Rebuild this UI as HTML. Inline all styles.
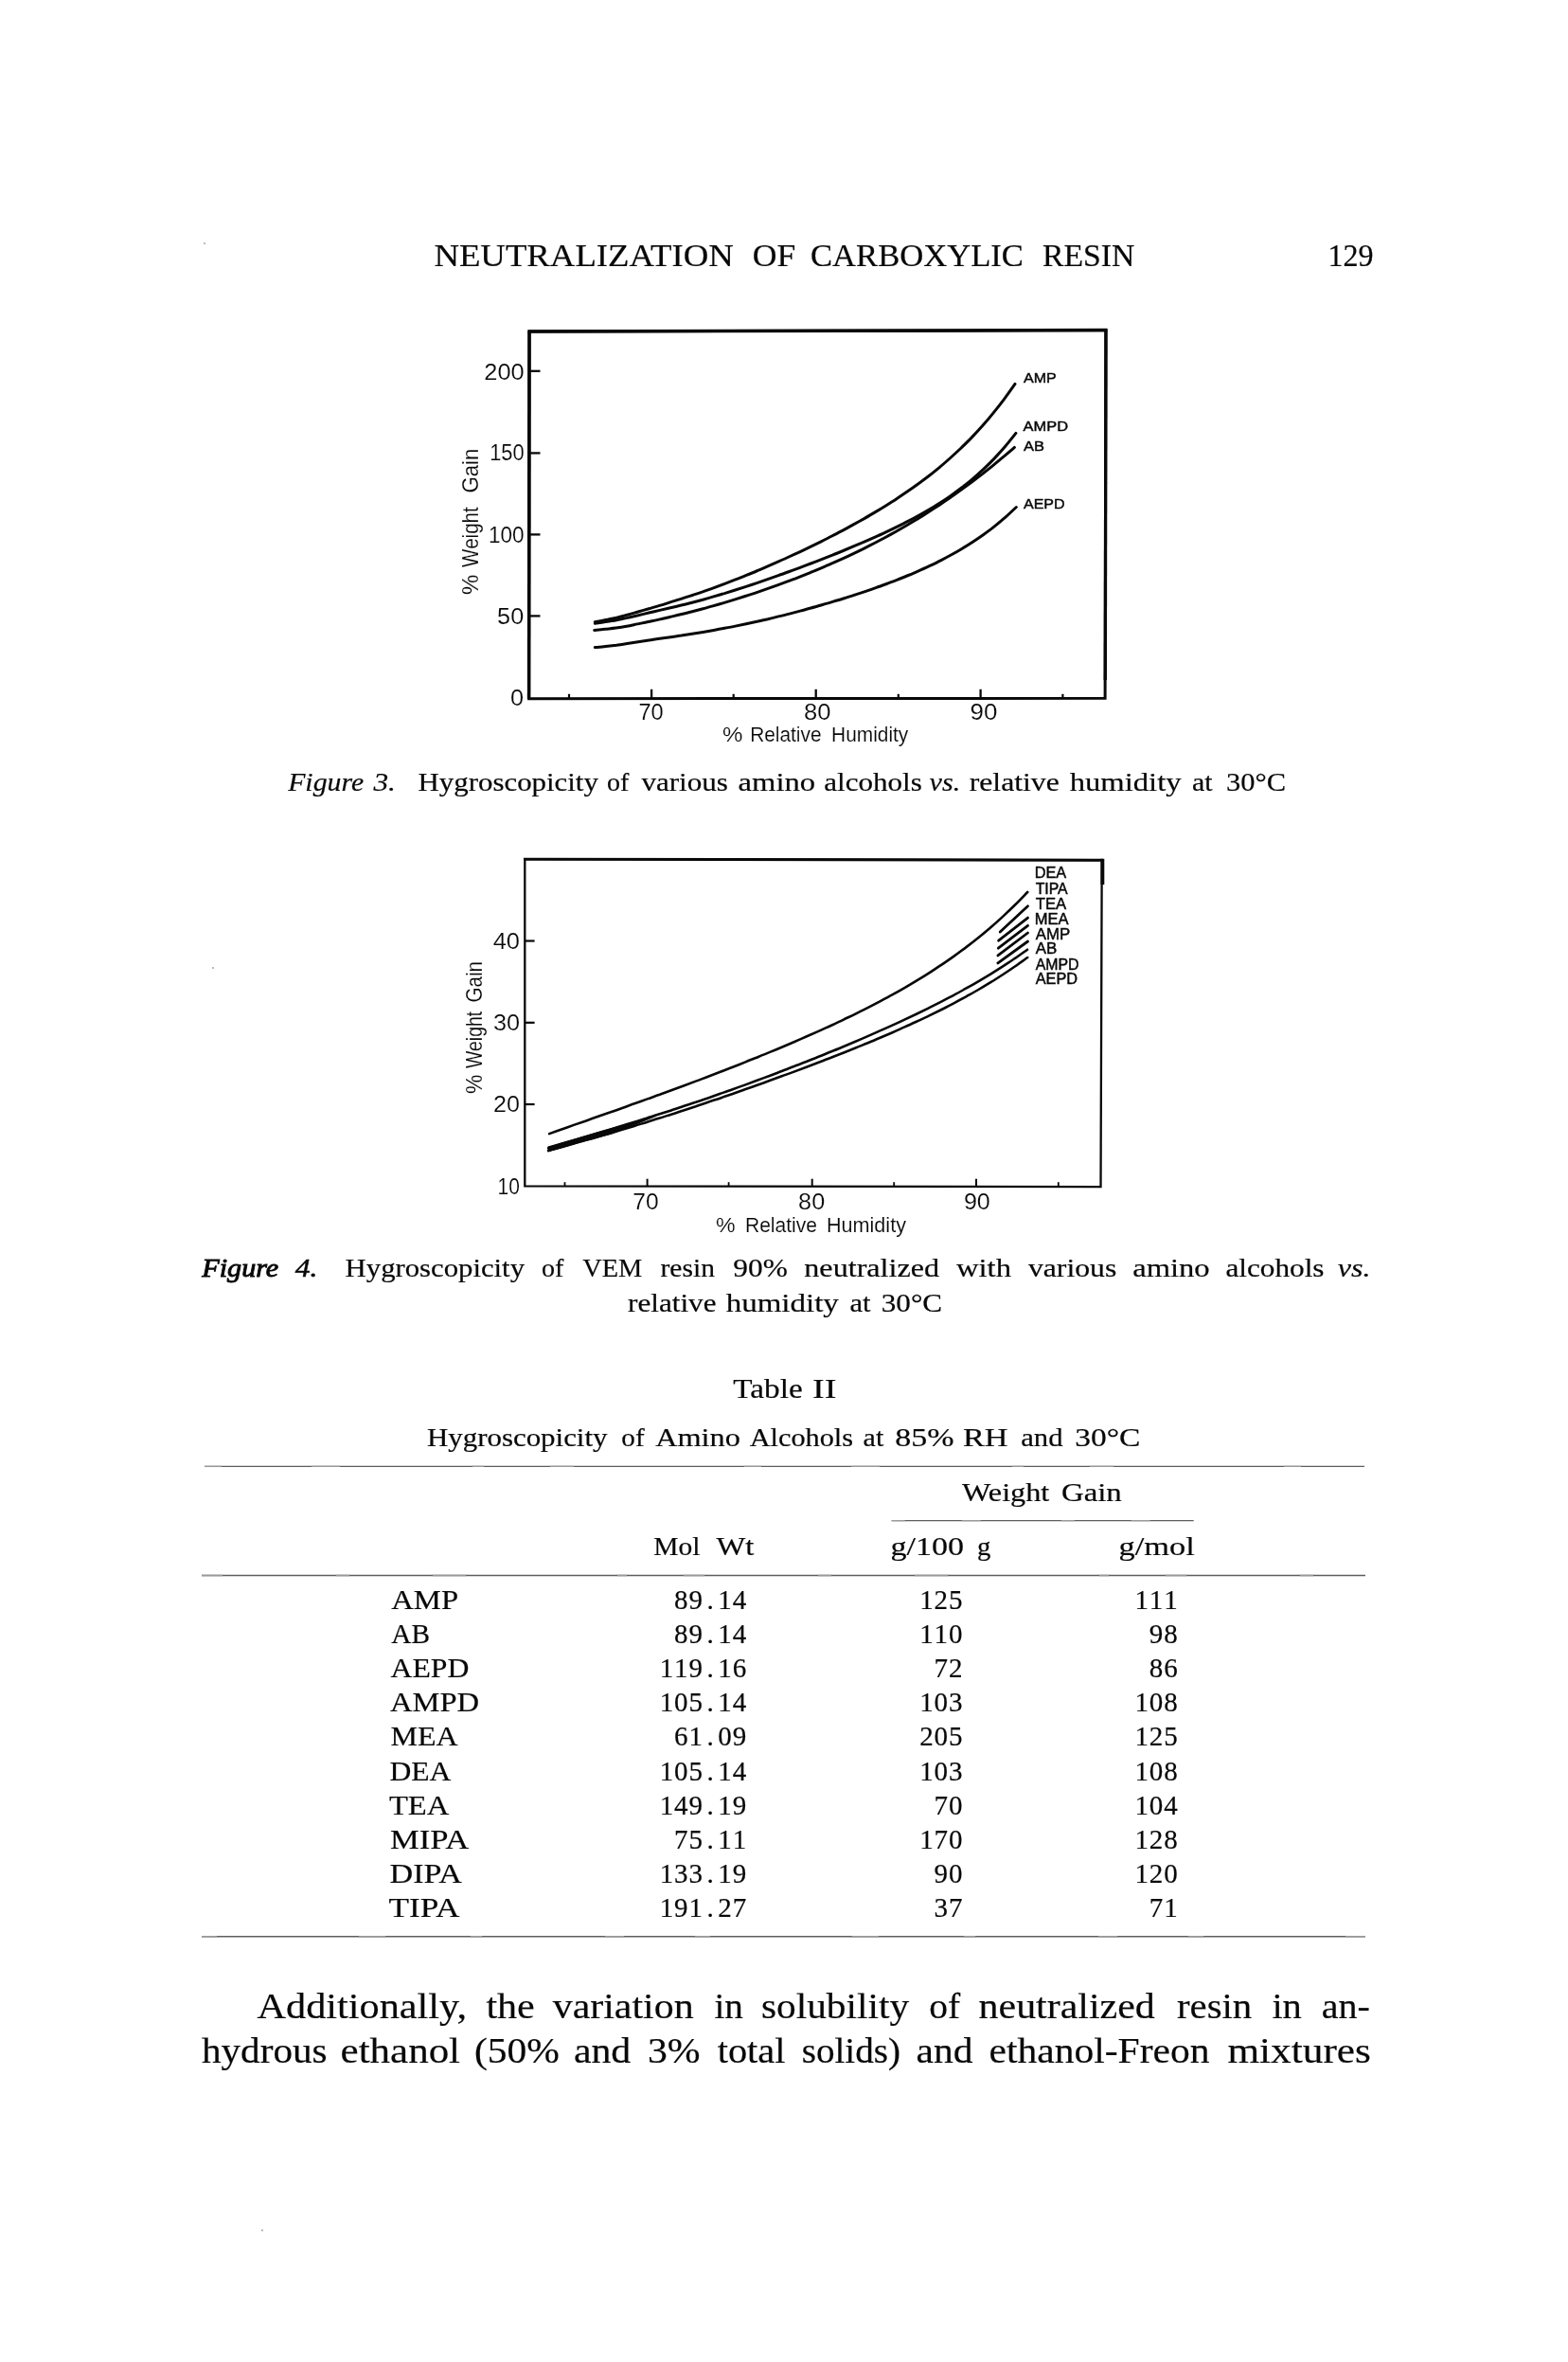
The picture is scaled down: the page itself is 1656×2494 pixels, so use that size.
<!DOCTYPE html>
<html lang="en">
<head>
<meta charset="utf-8">
<title>Neutralization of Carboxylic Resin - page 129</title>
<style>
html,body{margin:0;padding:0;background:#fff;}
body{width:1656px;height:2494px;overflow:hidden;font-family:"Liberation Serif",serif;}
svg{display:block;position:absolute;left:0;top:0;filter:grayscale(1);}
text{font-family:"Liberation Serif",serif;fill:#080808;white-space:pre;stroke:#080808;stroke-width:0.2px;}
text.s{font-family:"Liberation Sans",sans-serif;stroke:#fff;stroke-width:0.15px;}
text.b{stroke-width:0.2px;}
</style>
</head>
<body>
<svg width="1656" height="2494" viewBox="0 0 1656 2494">
<rect x="0" y="0" width="1656" height="2494" fill="#ffffff"/>
<text font-size="33" textLength="316.31" lengthAdjust="spacingAndGlyphs" x="458.40" y="280.5">NEUTRALIZATION</text>
<text font-size="33" textLength="45.46" lengthAdjust="spacingAndGlyphs" x="794.82" y="280.5">OF</text>
<text font-size="33" textLength="224.91" lengthAdjust="spacingAndGlyphs" x="856.05" y="280.5">CARBOXYLIC</text>
<text font-size="33" textLength="97.43" lengthAdjust="spacingAndGlyphs" x="1100.90" y="280.5">RESIN</text>
<text font-size="33" textLength="48.03" lengthAdjust="spacingAndGlyphs" x="1402.46" y="280.5">129</text>
<path d="M558.6,737.7 L559.1,350.0 L1167.9,348.6 L1167.1,737.3 Z" fill="none" stroke="#080808" stroke-width="3.0" stroke-linejoin="miter"/>
<line x1="557.4" y1="350.0" x2="1169.5" y2="348.6" stroke="#080808" stroke-width="3.5" stroke-linecap="butt"/>
<line x1="559.0" y1="350.0" x2="558.6" y2="737.7" stroke="#080808" stroke-width="3.5" stroke-linecap="butt"/>
<line x1="1168.0" y1="348.6" x2="1167.3" y2="718.0" stroke="#080808" stroke-width="3.3" stroke-linecap="butt"/>
<line x1="559.1" y1="391.8" x2="570.5" y2="391.8" stroke="#080808" stroke-width="2.3" stroke-linecap="butt"/>
<line x1="559.1" y1="478.4" x2="570.5" y2="478.4" stroke="#080808" stroke-width="2.3" stroke-linecap="butt"/>
<line x1="559.1" y1="564.4" x2="570.5" y2="564.4" stroke="#080808" stroke-width="2.3" stroke-linecap="butt"/>
<line x1="559.1" y1="650.4" x2="570.5" y2="650.4" stroke="#080808" stroke-width="2.3" stroke-linecap="butt"/>
<text font-size="23.5" class="s" textLength="42.36" lengthAdjust="spacingAndGlyphs" x="511.32" y="400.5">200</text>
<text font-size="23.5" class="s" textLength="36.50" lengthAdjust="spacingAndGlyphs" x="517.17" y="486.4">150</text>
<text font-size="23.5" class="s" textLength="37.63" lengthAdjust="spacingAndGlyphs" x="516.04" y="572.7">100</text>
<text font-size="23.5" class="s" textLength="28.07" lengthAdjust="spacingAndGlyphs" x="525.10" y="659.0">50</text>
<text font-size="23.5" class="s" transform="translate(539.10,745.3) scale(1.0769,1)">0</text>
<line x1="688.1" y1="737.3" x2="688.1" y2="727.8" stroke="#080808" stroke-width="2.3" stroke-linecap="butt"/>
<line x1="861.7" y1="737.3" x2="861.7" y2="727.8" stroke="#080808" stroke-width="2.3" stroke-linecap="butt"/>
<line x1="1035.6" y1="737.3" x2="1035.6" y2="727.8" stroke="#080808" stroke-width="2.3" stroke-linecap="butt"/>
<line x1="601.0" y1="737.3" x2="601.0" y2="732.8" stroke="#080808" stroke-width="2.2" stroke-linecap="butt"/>
<line x1="774.7" y1="737.3" x2="774.7" y2="732.8" stroke="#080808" stroke-width="2.2" stroke-linecap="butt"/>
<line x1="948.8" y1="737.3" x2="948.8" y2="732.8" stroke="#080808" stroke-width="2.2" stroke-linecap="butt"/>
<line x1="1122.4" y1="737.3" x2="1122.4" y2="732.8" stroke="#080808" stroke-width="2.2" stroke-linecap="butt"/>
<text font-size="23.5" class="s" textLength="26.28" lengthAdjust="spacingAndGlyphs" x="674.49" y="759.8">70</text>
<text font-size="23.5" class="s" textLength="28.46" lengthAdjust="spacingAndGlyphs" x="848.91" y="759.8">80</text>
<text font-size="23.5" class="s" textLength="28.78" lengthAdjust="spacingAndGlyphs" x="1024.60" y="759.8">90</text>
<text font-size="22.5" class="s" transform="translate(763.00,782.9) scale(1.0700,1)">%</text>
<text font-size="22.5" class="s" textLength="75.40" lengthAdjust="spacingAndGlyphs" x="792.17" y="782.9">Relative</text>
<text font-size="22.5" class="s" textLength="81.23" lengthAdjust="spacingAndGlyphs" x="878.07" y="782.9">Humidity</text>
<text font-size="24" class="s" transform="translate(504.6,628.1) rotate(-90) translate(0.00,0.0) scale(0.9952,1)">%</text>
<text font-size="24" class="s" textLength="63.62" lengthAdjust="spacingAndGlyphs" transform="translate(504.6,598.9) rotate(-90)" x="0.00" y="0">Weight</text>
<text font-size="24" class="s" textLength="46.77" lengthAdjust="spacingAndGlyphs" transform="translate(504.6,519.6) rotate(-90)" x="-0.92" y="0">Gain</text>
<path d="M628.3,656.8C630.2,656.4 635.9,655.3 639.7,654.5C643.5,653.8 647.3,653.0 651.1,652.2C654.8,651.3 658.6,650.3 662.4,649.3C666.2,648.3 670.0,647.1 673.8,646.0C677.6,644.9 681.4,643.8 685.2,642.7C689.0,641.6 692.8,640.6 696.6,639.4C700.4,638.3 704.1,637.1 707.9,635.9C711.7,634.8 715.5,633.6 719.3,632.4C723.1,631.2 726.9,630.0 730.7,628.7C734.5,627.5 738.3,626.2 742.1,624.9C745.9,623.5 749.7,622.2 753.4,620.8C757.2,619.4 761.0,618.0 764.8,616.6C768.6,615.1 772.4,613.7 776.2,612.2C780.0,610.7 783.8,609.2 787.6,607.6C791.4,606.1 795.2,604.6 799.0,603.0C802.7,601.4 806.5,599.8 810.3,598.1C814.1,596.5 817.9,594.8 821.7,593.2C825.5,591.5 829.3,589.8 833.1,588.0C836.9,586.3 840.7,584.5 844.5,582.8C848.3,581.0 852.0,579.2 855.8,577.3C859.6,575.5 863.4,573.6 867.2,571.8C871.0,569.9 874.8,568.0 878.6,566.0C882.4,564.1 886.2,562.1 890.0,560.1C893.8,558.1 897.6,556.0 901.3,553.9C905.1,551.8 908.9,549.7 912.7,547.6C916.5,545.4 920.3,543.2 924.1,540.9C927.9,538.7 931.7,536.4 935.5,534.0C939.3,531.6 943.1,529.2 946.9,526.7C950.6,524.3 954.4,521.7 958.2,519.1C962.0,516.5 965.8,513.8 969.6,511.0C973.4,508.3 977.2,505.4 981.0,502.5C984.8,499.5 988.6,496.5 992.4,493.3C996.2,490.2 999.9,486.9 1003.7,483.5C1007.5,480.1 1011.3,476.6 1015.1,473.0C1018.9,469.3 1022.7,465.6 1026.5,461.6C1030.3,457.7 1034.1,453.6 1037.9,449.3C1041.7,445.0 1045.5,440.6 1049.2,435.9C1053.0,431.2 1056.8,426.4 1060.6,421.3C1064.4,416.2 1070.1,408.1 1072.0,405.4" fill="none" stroke="#080808" stroke-width="3.0" stroke-linecap="round" stroke-linejoin="round"/>
<path d="M628.3,658.3C630.2,658.0 635.9,657.2 639.7,656.6C643.5,656.0 647.3,655.4 651.1,654.7C654.9,654.0 658.7,653.2 662.5,652.4C666.3,651.5 670.1,650.5 673.9,649.7C677.7,648.8 681.5,647.9 685.3,647.0C689.1,646.1 692.9,645.3 696.7,644.4C700.5,643.5 704.3,642.6 708.1,641.7C711.9,640.9 715.7,640.0 719.5,639.0C723.3,638.1 727.1,637.2 730.9,636.2C734.7,635.2 738.5,634.2 742.3,633.2C746.1,632.1 749.9,631.0 753.7,629.9C757.5,628.8 761.3,627.7 765.1,626.6C768.9,625.4 772.7,624.2 776.5,623.0C780.3,621.8 784.1,620.6 787.9,619.4C791.7,618.1 795.5,616.9 799.3,615.6C803.1,614.3 806.9,613.0 810.7,611.7C814.5,610.3 818.3,609.0 822.1,607.6C825.9,606.3 829.7,604.9 833.5,603.5C837.3,602.1 841.1,600.7 844.9,599.3C848.7,597.9 852.5,596.4 856.3,595.0C860.1,593.5 863.9,592.1 867.7,590.6C871.5,589.1 875.3,587.6 879.1,586.1C882.9,584.5 886.7,583.0 890.5,581.5C894.3,579.9 898.1,578.3 901.9,576.7C905.7,575.1 909.5,573.5 913.3,571.9C917.1,570.2 920.9,568.6 924.7,566.9C928.5,565.2 932.3,563.4 936.1,561.6C939.9,559.9 943.7,558.1 947.5,556.2C951.3,554.3 955.1,552.4 958.9,550.4C962.7,548.5 966.5,546.5 970.3,544.3C974.1,542.2 977.9,540.1 981.7,537.8C985.5,535.6 989.3,533.2 993.1,530.8C996.9,528.3 1000.7,525.8 1004.5,523.1C1008.3,520.5 1012.1,517.7 1015.9,514.8C1019.7,511.9 1023.5,508.8 1027.3,505.6C1031.1,502.4 1034.9,499.0 1038.7,495.4C1042.5,491.8 1046.3,488.1 1050.1,484.1C1053.9,480.1 1057.7,476.0 1061.5,471.5C1065.3,467.1 1071.0,459.8 1072.9,457.4" fill="none" stroke="#080808" stroke-width="3.0" stroke-linecap="round" stroke-linejoin="round"/>
<path d="M627.7,665.4C629.6,665.2 635.3,664.7 639.1,664.3C642.9,663.9 646.7,663.6 650.5,663.1C654.2,662.6 658.0,662.0 661.8,661.3C665.6,660.6 669.4,659.7 673.2,658.9C677.0,658.1 680.8,657.4 684.6,656.5C688.4,655.7 692.2,655.0 696.0,654.1C699.8,653.3 703.5,652.4 707.3,651.5C711.1,650.6 714.9,649.8 718.7,648.8C722.5,647.9 726.3,647.0 730.1,646.0C733.9,645.1 737.7,644.1 741.5,643.0C745.3,642.0 749.1,641.0 752.8,639.9C756.6,638.8 760.4,637.7 764.2,636.6C768.0,635.4 771.8,634.3 775.6,633.1C779.4,631.9 783.2,630.7 787.0,629.5C790.8,628.3 794.6,627.1 798.4,625.8C802.1,624.5 805.9,623.2 809.7,621.9C813.5,620.6 817.3,619.2 821.1,617.9C824.9,616.5 828.7,615.1 832.5,613.7C836.3,612.3 840.1,610.8 843.9,609.3C847.7,607.8 851.4,606.3 855.2,604.8C859.0,603.3 862.8,601.7 866.6,600.1C870.4,598.5 874.2,596.9 878.0,595.2C881.8,593.5 885.6,591.8 889.4,590.1C893.2,588.4 897.0,586.6 900.7,584.8C904.5,583.0 908.3,581.1 912.1,579.3C915.9,577.4 919.7,575.4 923.5,573.5C927.3,571.5 931.1,569.5 934.9,567.5C938.7,565.4 942.5,563.3 946.3,561.2C950.0,559.1 953.8,556.9 957.6,554.7C961.4,552.4 965.2,550.2 969.0,547.9C972.8,545.5 976.6,543.2 980.4,540.8C984.2,538.3 988.0,535.9 991.8,533.4C995.6,530.8 999.3,528.3 1003.1,525.7C1006.9,523.0 1010.7,520.4 1014.5,517.6C1018.3,514.9 1022.1,512.1 1025.9,509.3C1029.7,506.4 1033.5,503.5 1037.3,500.6C1041.1,497.6 1044.9,494.6 1048.6,491.6C1052.4,488.5 1056.2,485.4 1060.0,482.2C1063.8,479.0 1069.5,474.1 1071.4,472.4" fill="none" stroke="#080808" stroke-width="3.0" stroke-linecap="round" stroke-linejoin="round"/>
<path d="M628.3,683.6C630.2,683.4 635.9,682.9 639.7,682.4C643.5,682.0 647.3,681.6 651.1,681.2C654.9,680.7 658.7,680.1 662.5,679.6C666.3,679.0 670.1,678.4 673.9,677.8C677.7,677.2 681.5,676.6 685.4,676.0C689.2,675.5 693.0,674.9 696.8,674.3C700.6,673.8 704.4,673.2 708.2,672.7C712.0,672.1 715.8,671.5 719.6,671.0C723.4,670.4 727.2,669.8 731.0,669.2C734.8,668.6 738.6,668.0 742.4,667.4C746.2,666.7 750.0,666.1 753.8,665.4C757.6,664.7 761.4,664.0 765.2,663.3C769.0,662.6 772.8,661.9 776.6,661.1C780.4,660.3 784.2,659.5 788.0,658.7C791.8,657.9 795.7,657.1 799.5,656.3C803.3,655.4 807.1,654.5 810.9,653.7C814.7,652.8 818.5,651.9 822.3,650.9C826.1,650.0 829.9,649.1 833.7,648.1C837.5,647.1 841.3,646.1 845.1,645.1C848.9,644.1 852.7,643.1 856.5,642.0C860.3,641.0 864.1,639.9 867.9,638.8C871.7,637.7 875.5,636.6 879.3,635.4C883.1,634.3 886.9,633.2 890.7,632.0C894.5,630.8 898.3,629.6 902.1,628.3C905.9,627.1 909.8,625.9 913.6,624.6C917.4,623.3 921.2,622.0 925.0,620.6C928.8,619.3 932.6,617.9 936.4,616.5C940.2,615.1 944.0,613.6 947.8,612.1C951.6,610.7 955.4,609.1 959.2,607.5C963.0,606.0 966.8,604.3 970.6,602.7C974.4,601.0 978.2,599.2 982.0,597.4C985.8,595.6 989.6,593.8 993.4,591.8C997.2,589.9 1001.0,587.9 1004.8,585.8C1008.6,583.7 1012.4,581.5 1016.2,579.2C1020.1,576.9 1023.9,574.5 1027.7,572.0C1031.5,569.5 1035.3,566.9 1039.1,564.2C1042.9,561.4 1046.7,558.6 1050.5,555.6C1054.3,552.5 1058.1,549.4 1061.9,546.1C1065.7,542.7 1071.4,537.3 1073.3,535.5" fill="none" stroke="#080808" stroke-width="3.0" stroke-linecap="round" stroke-linejoin="round"/>
<text font-size="15.5" style="stroke:#080808;stroke-width:0.45px" class="s" textLength="34.75" lengthAdjust="spacingAndGlyphs" x="1081.00" y="404.4">AMP</text>
<text font-size="15.5" style="stroke:#080808;stroke-width:0.45px" class="s" textLength="47.40" lengthAdjust="spacingAndGlyphs" x="1080.60" y="455.0">AMPD</text>
<text font-size="15.5" style="stroke:#080808;stroke-width:0.45px" class="s" textLength="21.96" lengthAdjust="spacingAndGlyphs" x="1081.00" y="475.8">AB</text>
<text font-size="15.5" style="stroke:#080808;stroke-width:0.45px" class="s" textLength="43.60" lengthAdjust="spacingAndGlyphs" x="1081.00" y="536.5">AEPD</text>
<text font-size="28" font-style="italic" textLength="79.99" lengthAdjust="spacingAndGlyphs" x="304.16" y="835.3">Figure</text>
<text font-size="28" font-style="italic" textLength="23.52" lengthAdjust="spacingAndGlyphs" x="394.42" y="835.3">3.</text>
<text font-size="28" font-style="italic" textLength="32.76" lengthAdjust="spacingAndGlyphs" x="981.60" y="835.3">vs.</text>
<text font-size="28" textLength="190.40" lengthAdjust="spacingAndGlyphs" x="441.50" y="835.3">Hygroscopicity</text>
<text font-size="28" textLength="23.32" lengthAdjust="spacingAndGlyphs" x="641.00" y="835.3">of</text>
<text font-size="28" textLength="91.60" lengthAdjust="spacingAndGlyphs" x="677.40" y="835.3">various</text>
<text font-size="28" textLength="81.46" lengthAdjust="spacingAndGlyphs" x="779.60" y="835.3">amino</text>
<text font-size="28" textLength="103.49" lengthAdjust="spacingAndGlyphs" x="870.30" y="835.3">alcohols</text>
<text font-size="28" textLength="95.08" lengthAdjust="spacingAndGlyphs" x="1023.70" y="835.3">relative</text>
<text font-size="28" textLength="117.90" lengthAdjust="spacingAndGlyphs" x="1129.70" y="835.3">humidity</text>
<text font-size="28" textLength="21.56" lengthAdjust="spacingAndGlyphs" x="1259.10" y="835.3">at</text>
<text font-size="28" textLength="63.02" lengthAdjust="spacingAndGlyphs" x="1295.11" y="835.3">30°C</text>
<path d="M554.3,1252.3 L554.3,907.1 L1163.7,908.2 L1162.5,1253.1 Z" fill="none" stroke="#080808" stroke-width="2.3" stroke-linejoin="miter"/>
<line x1="553.0" y1="907.1" x2="1165.0" y2="908.2" stroke="#080808" stroke-width="2.9" stroke-linecap="butt"/>
<rect x="1162.5" y="906.8" width="3.8" height="27.2" fill="#080808"/>
<line x1="554.6" y1="993.5" x2="564.6" y2="993.5" stroke="#080808" stroke-width="2.2" stroke-linecap="butt"/>
<line x1="554.6" y1="1079.8" x2="564.6" y2="1079.8" stroke="#080808" stroke-width="2.2" stroke-linecap="butt"/>
<line x1="554.6" y1="1166.0" x2="564.6" y2="1166.0" stroke="#080808" stroke-width="2.2" stroke-linecap="butt"/>
<text font-size="23.5" class="s" textLength="28.28" lengthAdjust="spacingAndGlyphs" x="520.70" y="1001.9">40</text>
<text font-size="23.5" class="s" textLength="28.07" lengthAdjust="spacingAndGlyphs" x="520.90" y="1087.8">30</text>
<text font-size="23.5" class="s" textLength="27.94" lengthAdjust="spacingAndGlyphs" x="521.03" y="1174.3">20</text>
<text font-size="23.5" class="s" textLength="23.36" lengthAdjust="spacingAndGlyphs" x="525.61" y="1260.9">10</text>
<line x1="683.6" y1="1252.2" x2="683.6" y2="1244.7" stroke="#080808" stroke-width="2.0" stroke-linecap="butt"/>
<line x1="857.7" y1="1252.2" x2="857.7" y2="1244.7" stroke="#080808" stroke-width="2.0" stroke-linecap="butt"/>
<line x1="1031.0" y1="1252.2" x2="1031.0" y2="1244.7" stroke="#080808" stroke-width="2.0" stroke-linecap="butt"/>
<line x1="596.5" y1="1252.2" x2="596.5" y2="1248.2" stroke="#080808" stroke-width="1.8" stroke-linecap="butt"/>
<line x1="769.6" y1="1252.2" x2="769.6" y2="1248.2" stroke="#080808" stroke-width="1.8" stroke-linecap="butt"/>
<line x1="944.2" y1="1252.2" x2="944.2" y2="1248.2" stroke="#080808" stroke-width="1.8" stroke-linecap="butt"/>
<line x1="1117.8" y1="1252.2" x2="1117.8" y2="1248.2" stroke="#080808" stroke-width="1.8" stroke-linecap="butt"/>
<text font-size="23.5" class="s" textLength="27.32" lengthAdjust="spacingAndGlyphs" x="668.35" y="1276.9">70</text>
<text font-size="23.5" class="s" textLength="28.05" lengthAdjust="spacingAndGlyphs" x="843.13" y="1276.9">80</text>
<text font-size="23.5" class="s" textLength="27.84" lengthAdjust="spacingAndGlyphs" x="1017.93" y="1276.9">90</text>
<text font-size="22.5" class="s" transform="translate(756.10,1300.9) scale(1.0300,1)">%</text>
<text font-size="22.5" class="s" textLength="76.02" lengthAdjust="spacingAndGlyphs" x="786.96" y="1300.9">Relative</text>
<text font-size="22.5" class="s" textLength="84.04" lengthAdjust="spacingAndGlyphs" x="872.94" y="1300.9">Humidity</text>
<text font-size="24" class="s" transform="translate(509.0,1154.9) rotate(-90) translate(0.00,0.0) scale(0.9571,1)">%</text>
<text font-size="24" class="s" textLength="60.03" lengthAdjust="spacingAndGlyphs" transform="translate(509.0,1127.9) rotate(-90)" x="0.00" y="0">Weight</text>
<text font-size="24" class="s" textLength="43.52" lengthAdjust="spacingAndGlyphs" transform="translate(509.0,1057.6) rotate(-90)" x="-0.86" y="0">Gain</text>
<path d="M580.1,1197.1C582.3,1196.3 588.7,1194.0 593.1,1192.5C597.4,1191.0 601.7,1189.4 606.0,1187.9C610.3,1186.4 614.6,1184.9 619.0,1183.4C623.3,1181.9 627.6,1180.3 631.9,1178.8C636.2,1177.3 640.5,1175.8 644.9,1174.3C649.2,1172.7 653.5,1171.2 657.8,1169.7C662.1,1168.2 666.4,1166.6 670.8,1165.1C675.1,1163.5 679.4,1162.0 683.7,1160.4C688.0,1158.9 692.3,1157.3 696.7,1155.8C701.0,1154.2 705.3,1152.6 709.6,1151.0C713.9,1149.4 718.2,1147.8 722.6,1146.2C726.9,1144.6 731.2,1143.0 735.5,1141.4C739.8,1139.8 744.1,1138.1 748.5,1136.5C752.8,1134.8 757.1,1133.2 761.4,1131.5C765.7,1129.8 770.1,1128.2 774.4,1126.5C778.7,1124.8 783.0,1123.1 787.3,1121.4C791.6,1119.6 796.0,1117.9 800.3,1116.2C804.6,1114.4 808.9,1112.6 813.2,1110.9C817.5,1109.1 821.9,1107.3 826.2,1105.5C830.5,1103.7 834.8,1101.8 839.1,1100.0C843.4,1098.1 847.8,1096.2 852.1,1094.3C856.4,1092.4 860.7,1090.5 865.0,1088.6C869.3,1086.6 873.7,1084.7 878.0,1082.7C882.3,1080.7 886.6,1078.7 890.9,1076.6C895.2,1074.5 899.6,1072.5 903.9,1070.3C908.2,1068.2 912.5,1066.0 916.8,1063.8C921.2,1061.6 925.5,1059.4 929.8,1057.1C934.1,1054.8 938.4,1052.5 942.7,1050.1C947.1,1047.7 951.4,1045.3 955.7,1042.8C960.0,1040.3 964.3,1037.8 968.6,1035.1C973.0,1032.5 977.3,1029.9 981.6,1027.1C985.9,1024.3 990.2,1021.5 994.5,1018.6C998.9,1015.7 1003.2,1012.7 1007.5,1009.6C1011.8,1006.6 1016.1,1003.4 1020.4,1000.1C1024.8,996.8 1029.1,993.5 1033.4,990.0C1037.7,986.5 1042.0,982.9 1046.3,979.2C1050.7,975.5 1055.0,971.6 1059.3,967.6C1063.6,963.6 1067.9,959.5 1072.2,955.3C1076.6,951.0 1083.0,944.2 1085.2,942.0" fill="none" stroke="#080808" stroke-width="2.6" stroke-linecap="round" stroke-linejoin="round"/>
<path d="M579.1,1212.2C581.3,1211.5 587.7,1209.5 592.1,1208.2C596.4,1206.9 600.7,1205.6 605.0,1204.4C609.4,1203.1 613.7,1201.8 618.0,1200.5C622.3,1199.2 626.7,1197.9 631.0,1196.6C635.3,1195.3 639.6,1194.0 644.0,1192.7C648.3,1191.4 652.6,1190.1 656.9,1188.8C661.3,1187.4 665.6,1186.1 669.9,1184.8C674.2,1183.4 678.6,1182.1 682.9,1180.7C687.2,1179.4 691.5,1178.0 695.8,1176.6C700.2,1175.2 704.5,1173.8 708.8,1172.4C713.1,1171.0 717.5,1169.6 721.8,1168.1C726.1,1166.7 730.4,1165.2 734.8,1163.8C739.1,1162.3 743.4,1160.8 747.7,1159.4C752.1,1157.9 756.4,1156.4 760.7,1154.8C765.0,1153.3 769.4,1151.8 773.7,1150.2C778.0,1148.7 782.3,1147.1 786.6,1145.6C791.0,1144.0 795.3,1142.4 799.6,1140.8C803.9,1139.2 808.3,1137.6 812.6,1136.0C816.9,1134.3 821.2,1132.7 825.6,1131.0C829.9,1129.4 834.2,1127.7 838.5,1126.0C842.9,1124.4 847.2,1122.7 851.5,1121.0C855.8,1119.2 860.2,1117.5 864.5,1115.8C868.8,1114.0 873.1,1112.3 877.5,1110.5C881.8,1108.8 886.1,1107.0 890.4,1105.2C894.7,1103.4 899.1,1101.5 903.4,1099.7C907.7,1097.9 912.0,1096.0 916.4,1094.1C920.7,1092.3 925.0,1090.4 929.3,1088.4C933.7,1086.5 938.0,1084.6 942.3,1082.6C946.6,1080.7 951.0,1078.7 955.3,1076.6C959.6,1074.6 963.9,1072.6 968.3,1070.5C972.6,1068.4 976.9,1066.3 981.2,1064.2C985.5,1062.0 989.9,1059.8 994.2,1057.6C998.5,1055.4 1002.8,1053.1 1007.2,1050.8C1011.5,1048.5 1015.8,1046.1 1020.1,1043.7C1024.5,1041.3 1028.8,1038.9 1033.1,1036.3C1037.4,1033.8 1041.8,1031.2 1046.1,1028.6C1050.4,1025.9 1054.7,1023.2 1059.1,1020.4C1063.4,1017.6 1067.7,1014.8 1072.0,1011.8C1076.4,1008.9 1082.8,1004.2 1085.0,1002.7" fill="none" stroke="#080808" stroke-width="2.6" stroke-linecap="round" stroke-linejoin="round"/>
<path d="M579.1,1214.9C581.3,1214.3 587.8,1212.5 592.1,1211.4C596.4,1210.2 600.7,1209.0 605.1,1207.8C609.4,1206.6 613.7,1205.4 618.0,1204.1C622.4,1202.9 626.7,1201.7 631.0,1200.4C635.3,1199.2 639.7,1197.9 644.0,1196.7C648.3,1195.4 652.6,1194.1 657.0,1192.8C661.3,1191.5 665.6,1190.2 669.9,1188.9C674.3,1187.6 678.6,1186.2 682.9,1184.9C687.2,1183.5 691.6,1182.2 695.9,1180.8C700.2,1179.4 704.5,1178.1 708.9,1176.7C713.2,1175.3 717.5,1173.9 721.8,1172.4C726.2,1171.0 730.5,1169.6 734.8,1168.2C739.1,1166.7 743.5,1165.3 747.8,1163.8C752.1,1162.3 756.5,1160.9 760.8,1159.4C765.1,1157.9 769.4,1156.4 773.8,1154.9C778.1,1153.4 782.4,1151.9 786.7,1150.3C791.1,1148.8 795.4,1147.3 799.7,1145.7C804.0,1144.2 808.4,1142.6 812.7,1141.1C817.0,1139.5 821.3,1137.9 825.7,1136.3C830.0,1134.8 834.3,1133.2 838.6,1131.6C843.0,1129.9 847.3,1128.3 851.6,1126.7C855.9,1125.1 860.3,1123.4 864.6,1121.8C868.9,1120.1 873.2,1118.4 877.6,1116.8C881.9,1115.1 886.2,1113.4 890.5,1111.7C894.9,1109.9 899.2,1108.2 903.5,1106.5C907.8,1104.7 912.2,1103.0 916.5,1101.2C920.8,1099.4 925.2,1097.6 929.5,1095.7C933.8,1093.9 938.1,1092.1 942.5,1090.2C946.8,1088.3 951.1,1086.4 955.4,1084.4C959.8,1082.5 964.1,1080.5 968.4,1078.5C972.7,1076.5 977.1,1074.5 981.4,1072.4C985.7,1070.3 990.0,1068.2 994.4,1066.0C998.7,1063.8 1003.0,1061.6 1007.3,1059.3C1011.7,1057.0 1016.0,1054.7 1020.3,1052.3C1024.6,1049.9 1029.0,1047.5 1033.3,1045.0C1037.6,1042.5 1041.9,1039.9 1046.3,1037.2C1050.6,1034.6 1054.9,1031.8 1059.2,1029.0C1063.6,1026.2 1067.9,1023.3 1072.2,1020.3C1076.5,1017.3 1083.0,1012.5 1085.2,1011.0" fill="none" stroke="#080808" stroke-width="2.6" stroke-linecap="round" stroke-linejoin="round"/>
<path d="M578.6,1210.6 L617.4,1199.2 L646.1,1191.0 L668,1184.4 L694,1178.6 L668,1189.0 L646.1,1197.4 L617.4,1205.2 L578.6,1216.4 Z" fill="#080808"/>
<line x1="1056.2" y1="984.0" x2="1085.5" y2="956.8" stroke="#080808" stroke-width="2.8" stroke-linecap="round"/>
<line x1="1054.6" y1="993.2" x2="1085.5" y2="969.1" stroke="#080808" stroke-width="2.8" stroke-linecap="round"/>
<line x1="1054.3" y1="1001.2" x2="1085.5" y2="977.3" stroke="#080808" stroke-width="2.8" stroke-linecap="round"/>
<line x1="1053.9" y1="1008.9" x2="1085.5" y2="985.0" stroke="#080808" stroke-width="2.8" stroke-linecap="round"/>
<line x1="1053.9" y1="1016.9" x2="1085.5" y2="994.0" stroke="#080808" stroke-width="2.8" stroke-linecap="round"/>
<text font-size="16" style="stroke:#080808;stroke-width:0.45px" class="s" textLength="33.48" lengthAdjust="spacingAndGlyphs" x="1092.68" y="926.9">DEA</text>
<text font-size="16" style="stroke:#080808;stroke-width:0.45px" class="s" textLength="33.98" lengthAdjust="spacingAndGlyphs" x="1093.70" y="943.5">TIPA</text>
<text font-size="16" style="stroke:#080808;stroke-width:0.45px" class="s" textLength="32.46" lengthAdjust="spacingAndGlyphs" x="1093.70" y="960.0">TEA</text>
<text font-size="16" style="stroke:#080808;stroke-width:0.45px" class="s" textLength="35.79" lengthAdjust="spacingAndGlyphs" x="1092.67" y="975.7">MEA</text>
<text font-size="16" style="stroke:#080808;stroke-width:0.45px" class="s" textLength="36.51" lengthAdjust="spacingAndGlyphs" x="1093.70" y="991.5">AMP</text>
<text font-size="16" style="stroke:#080808;stroke-width:0.45px" class="s" textLength="22.51" lengthAdjust="spacingAndGlyphs" x="1093.70" y="1006.8">AB</text>
<text font-size="16" style="stroke:#080808;stroke-width:0.45px" class="s" textLength="45.85" lengthAdjust="spacingAndGlyphs" x="1093.70" y="1023.5">AMPD</text>
<text font-size="16" style="stroke:#080808;stroke-width:0.45px" class="s" textLength="44.36" lengthAdjust="spacingAndGlyphs" x="1093.70" y="1039.2">AEPD</text>
<text font-size="28" style="stroke-width:0.9px" font-style="italic" textLength="80.98" lengthAdjust="spacingAndGlyphs" x="213.28" y="1348.3">Figure</text>
<text font-size="28" style="stroke-width:0.5px" font-style="italic" textLength="23.76" lengthAdjust="spacingAndGlyphs" x="311.70" y="1348.3">4.</text>
<text font-size="28" font-style="italic" textLength="34.90" lengthAdjust="spacingAndGlyphs" x="1412.70" y="1348.3">vs.</text>
<text font-size="28" textLength="189.40" lengthAdjust="spacingAndGlyphs" x="364.60" y="1348.3">Hygroscopicity</text>
<text font-size="28" textLength="23.32" lengthAdjust="spacingAndGlyphs" x="572.10" y="1348.3">of</text>
<text font-size="28" textLength="63.10" lengthAdjust="spacingAndGlyphs" x="615.20" y="1348.3">VEM</text>
<text font-size="28" textLength="57.40" lengthAdjust="spacingAndGlyphs" x="697.50" y="1348.3">resin</text>
<text font-size="28" textLength="57.46" lengthAdjust="spacingAndGlyphs" x="774.30" y="1348.3">90%</text>
<text font-size="28" textLength="142.80" lengthAdjust="spacingAndGlyphs" x="849.30" y="1348.3">neutralized</text>
<text font-size="28" textLength="58.00" lengthAdjust="spacingAndGlyphs" x="1010.00" y="1348.3">with</text>
<text font-size="28" textLength="93.42" lengthAdjust="spacingAndGlyphs" x="1085.90" y="1348.3">various</text>
<text font-size="28" textLength="81.46" lengthAdjust="spacingAndGlyphs" x="1196.20" y="1348.3">amino</text>
<text font-size="28" textLength="104.10" lengthAdjust="spacingAndGlyphs" x="1294.40" y="1348.3">alcohols</text>
<text font-size="28" textLength="93.48" lengthAdjust="spacingAndGlyphs" x="663.00" y="1384.6">relative</text>
<text font-size="28" textLength="119.20" lengthAdjust="spacingAndGlyphs" x="766.70" y="1384.6">humidity</text>
<text font-size="28" textLength="22.06" lengthAdjust="spacingAndGlyphs" x="897.50" y="1384.6">at</text>
<text font-size="28" textLength="64.36" lengthAdjust="spacingAndGlyphs" x="930.79" y="1384.6">30°C</text>
<text font-size="28.5" textLength="73.36" lengthAdjust="spacingAndGlyphs" x="774.30" y="1476.3">Table</text>
<text font-size="28.5" textLength="25.39" lengthAdjust="spacingAndGlyphs" x="857.96" y="1476.3">II</text>
<text font-size="28" textLength="190.60" lengthAdjust="spacingAndGlyphs" x="450.90" y="1527.1">Hygroscopicity</text>
<text font-size="28" textLength="24.24" lengthAdjust="spacingAndGlyphs" x="656.36" y="1527.1">of</text>
<text font-size="28" textLength="89.65" lengthAdjust="spacingAndGlyphs" x="692.20" y="1527.1">Amino</text>
<text font-size="28" textLength="109.37" lengthAdjust="spacingAndGlyphs" x="791.70" y="1527.1">Alcohols</text>
<text font-size="28" textLength="21.66" lengthAdjust="spacingAndGlyphs" x="911.60" y="1527.1">at</text>
<text font-size="28" textLength="62.31" lengthAdjust="spacingAndGlyphs" x="945.19" y="1527.1">85%</text>
<text font-size="28" textLength="47.57" lengthAdjust="spacingAndGlyphs" x="1017.00" y="1527.1">RH</text>
<text font-size="28" textLength="44.30" lengthAdjust="spacingAndGlyphs" x="1078.20" y="1527.1">and</text>
<text font-size="28" textLength="69.20" lengthAdjust="spacingAndGlyphs" x="1135.20" y="1527.1">30°C</text>
<line x1="216.0" y1="1548.4" x2="1441.0" y2="1548.4" stroke="#5e5e5e" stroke-width="1.3" stroke-linecap="butt"/>
<line x1="216.0" y1="1548.4" x2="1441.0" y2="1548.4" stroke="#9a9a9a" stroke-width="1.3" stroke-dasharray="18 95 30 140 12 70 25 180" stroke-dashoffset="0"/>
<line x1="213.0" y1="1663.6" x2="1442.0" y2="1663.6" stroke="#5e5e5e" stroke-width="1.5" stroke-linecap="butt"/>
<line x1="213.0" y1="1663.6" x2="1442.0" y2="1663.6" stroke="#9a9a9a" stroke-width="1.5" stroke-dasharray="22 120 14 88 35 160 10 60" stroke-dashoffset="0"/>
<line x1="213.0" y1="2044.8" x2="1442.0" y2="2044.8" stroke="#5e5e5e" stroke-width="1.6" stroke-linecap="butt"/>
<line x1="213.0" y1="2044.8" x2="1442.0" y2="2044.8" stroke="#9a9a9a" stroke-width="1.6" stroke-dasharray="16 150 28 90 12 130 20 75" stroke-dashoffset="0"/>
<line x1="941.7" y1="1605.6" x2="1260.7" y2="1605.6" stroke="#5e5e5e" stroke-width="1.2" stroke-linecap="butt"/>
<line x1="941.7" y1="1605.6" x2="1260.7" y2="1605.6" stroke="#9a9a9a" stroke-width="1.2" stroke-dasharray="14 60 20 85" stroke-dashoffset="0"/>
<text font-size="28" textLength="92.25" lengthAdjust="spacingAndGlyphs" x="1016.00" y="1584.7">Weight</text>
<text font-size="28" textLength="63.87" lengthAdjust="spacingAndGlyphs" x="1120.93" y="1584.7">Gain</text>
<text font-size="28" textLength="49.17" lengthAdjust="spacingAndGlyphs" x="690.20" y="1641.7">Mol</text>
<text font-size="28" textLength="39.84" lengthAdjust="spacingAndGlyphs" x="756.50" y="1641.7">Wt</text>
<text font-size="28" textLength="77.63" lengthAdjust="spacingAndGlyphs" x="940.48" y="1641.7">g/100</text>
<text font-size="28" transform="translate(1031.88,1641.7) scale(1.0231,1)">g</text>
<text font-size="28" textLength="80.16" lengthAdjust="spacingAndGlyphs" x="1181.57" y="1641.7">g/mol</text>
<text font-size="29" textLength="70.77" lengthAdjust="spacingAndGlyphs" x="413.30" y="1698.8">AMP</text>
<text x="719.3 734.7 750.1 765.5 780.9" y="1698.8" font-size="29" text-anchor="middle">89.14</text>
<text x="978.4 993.8 1009.2" y="1698.8" font-size="29" text-anchor="middle">125</text>
<text x="1205.7 1221.1 1236.5" y="1698.8" font-size="29" text-anchor="middle">111</text>
<text font-size="29" textLength="40.66" lengthAdjust="spacingAndGlyphs" x="413.30" y="1735.0">AB</text>
<text x="719.3 734.7 750.1 765.5 780.9" y="1735.0" font-size="29" text-anchor="middle">89.14</text>
<text x="978.4 993.8 1009.2" y="1735.0" font-size="29" text-anchor="middle">110</text>
<text x="1221.1 1236.5" y="1735.0" font-size="29" text-anchor="middle">98</text>
<text font-size="29" textLength="82.73" lengthAdjust="spacingAndGlyphs" x="412.60" y="1771.1">AEPD</text>
<text x="703.9 719.3 734.7 750.1 765.5 780.9" y="1771.1" font-size="29" text-anchor="middle">119.16</text>
<text x="993.8 1009.2" y="1771.1" font-size="29" text-anchor="middle">72</text>
<text x="1221.1 1236.5" y="1771.1" font-size="29" text-anchor="middle">86</text>
<text font-size="29" textLength="94.16" lengthAdjust="spacingAndGlyphs" x="411.90" y="1807.2">AMPD</text>
<text x="703.9 719.3 734.7 750.1 765.5 780.9" y="1807.2" font-size="29" text-anchor="middle">105.14</text>
<text x="978.4 993.8 1009.2" y="1807.2" font-size="29" text-anchor="middle">103</text>
<text x="1205.7 1221.1 1236.5" y="1807.2" font-size="29" text-anchor="middle">108</text>
<text font-size="29" textLength="71.14" lengthAdjust="spacingAndGlyphs" x="412.60" y="1843.4">MEA</text>
<text x="719.3 734.7 750.1 765.5 780.9" y="1843.4" font-size="29" text-anchor="middle">61.09</text>
<text x="978.4 993.8 1009.2" y="1843.4" font-size="29" text-anchor="middle">205</text>
<text x="1205.7 1221.1 1236.5" y="1843.4" font-size="29" text-anchor="middle">125</text>
<text font-size="29" textLength="64.94" lengthAdjust="spacingAndGlyphs" x="411.50" y="1879.5">DEA</text>
<text x="703.9 719.3 734.7 750.1 765.5 780.9" y="1879.5" font-size="29" text-anchor="middle">105.14</text>
<text x="978.4 993.8 1009.2" y="1879.5" font-size="29" text-anchor="middle">103</text>
<text x="1205.7 1221.1 1236.5" y="1879.5" font-size="29" text-anchor="middle">108</text>
<text font-size="29" textLength="63.44" lengthAdjust="spacingAndGlyphs" x="410.90" y="1915.7">TEA</text>
<text x="703.9 719.3 734.7 750.1 765.5 780.9" y="1915.7" font-size="29" text-anchor="middle">149.19</text>
<text x="993.8 1009.2" y="1915.7" font-size="29" text-anchor="middle">70</text>
<text x="1205.7 1221.1 1236.5" y="1915.7" font-size="29" text-anchor="middle">104</text>
<text font-size="29" textLength="83.43" lengthAdjust="spacingAndGlyphs" x="411.90" y="1951.8">MIPA</text>
<text x="719.3 734.7 750.1 765.5 780.9" y="1951.8" font-size="29" text-anchor="middle">75.11</text>
<text x="978.4 993.8 1009.2" y="1951.8" font-size="29" text-anchor="middle">170</text>
<text x="1205.7 1221.1 1236.5" y="1951.8" font-size="29" text-anchor="middle">128</text>
<text font-size="29" textLength="76.53" lengthAdjust="spacingAndGlyphs" x="411.50" y="1988.0">DIPA</text>
<text x="703.9 719.3 734.7 750.1 765.5 780.9" y="1988.0" font-size="29" text-anchor="middle">133.19</text>
<text x="993.8 1009.2" y="1988.0" font-size="29" text-anchor="middle">90</text>
<text x="1205.7 1221.1 1236.5" y="1988.0" font-size="29" text-anchor="middle">120</text>
<text font-size="29" textLength="75.03" lengthAdjust="spacingAndGlyphs" x="410.50" y="2024.1">TIPA</text>
<text x="703.9 719.3 734.7 750.1 765.5 780.9" y="2024.1" font-size="29" text-anchor="middle">191.27</text>
<text x="993.8 1009.2" y="2024.1" font-size="29" text-anchor="middle">37</text>
<text x="1221.1 1236.5" y="2024.1" font-size="29" text-anchor="middle">71</text>
<text font-size="38.5" class="b" textLength="221.58" lengthAdjust="spacingAndGlyphs" x="271.50" y="2130.6">Additionally,</text>
<text font-size="38.5" class="b" textLength="51.39" lengthAdjust="spacingAndGlyphs" x="513.40" y="2130.6">the</text>
<text font-size="38.5" class="b" textLength="148.97" lengthAdjust="spacingAndGlyphs" x="583.70" y="2130.6">variation</text>
<text font-size="38.5" class="b" textLength="30.45" lengthAdjust="spacingAndGlyphs" x="754.40" y="2130.6">in</text>
<text font-size="38.5" class="b" textLength="156.17" lengthAdjust="spacingAndGlyphs" x="803.93" y="2130.6">solubility</text>
<text font-size="38.5" class="b" textLength="32.94" lengthAdjust="spacingAndGlyphs" x="981.27" y="2130.6">of</text>
<text font-size="38.5" class="b" textLength="186.17" lengthAdjust="spacingAndGlyphs" x="1033.60" y="2130.6">neutralized</text>
<text font-size="38.5" class="b" textLength="79.26" lengthAdjust="spacingAndGlyphs" x="1243.00" y="2130.6">resin</text>
<text font-size="38.5" class="b" textLength="31.46" lengthAdjust="spacingAndGlyphs" x="1343.40" y="2130.6">in</text>
<text font-size="38.5" class="b" textLength="51.09" lengthAdjust="spacingAndGlyphs" x="1395.76" y="2130.6">an-</text>
<text font-size="38.5" class="b" textLength="132.75" lengthAdjust="spacingAndGlyphs" x="212.90" y="2178.3">hydrous</text>
<text font-size="38.5" class="b" textLength="126.49" lengthAdjust="spacingAndGlyphs" x="359.58" y="2178.3">ethanol</text>
<text font-size="38.5" class="b" textLength="89.83" lengthAdjust="spacingAndGlyphs" x="501.02" y="2178.3">(50%</text>
<text font-size="38.5" class="b" textLength="60.36" lengthAdjust="spacingAndGlyphs" x="605.91" y="2178.3">and</text>
<text font-size="38.5" class="b" textLength="55.65" lengthAdjust="spacingAndGlyphs" x="683.92" y="2178.3">3%</text>
<text font-size="38.5" class="b" textLength="71.83" lengthAdjust="spacingAndGlyphs" x="757.70" y="2178.3">total</text>
<text font-size="38.5" class="b" textLength="104.45" lengthAdjust="spacingAndGlyphs" x="846.68" y="2178.3">solids)</text>
<text font-size="38.5" class="b" textLength="59.95" lengthAdjust="spacingAndGlyphs" x="967.52" y="2178.3">and</text>
<text font-size="38.5" class="b" textLength="232.95" lengthAdjust="spacingAndGlyphs" x="1044.52" y="2178.3">ethanol-Freon</text>
<text font-size="38.5" class="b" textLength="151.51" lengthAdjust="spacingAndGlyphs" x="1296.40" y="2178.3">mixtures</text>
<circle cx="216" cy="257" r="0.9" fill="#9a9a9a"/>
<circle cx="225" cy="1022" r="0.9" fill="#9a9a9a"/>
<circle cx="277" cy="2355" r="0.9" fill="#9a9a9a"/>
</svg>
</body>
</html>
